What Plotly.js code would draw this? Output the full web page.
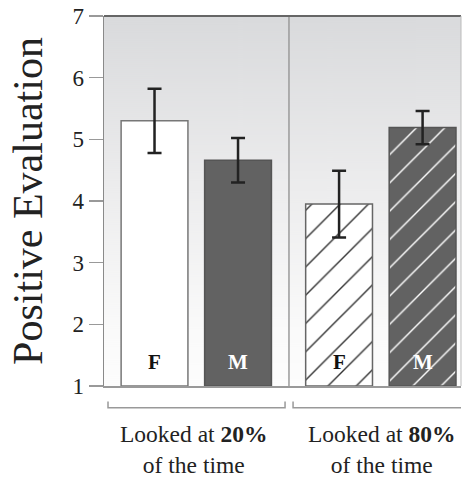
<!DOCTYPE html>
<html>
<head>
<meta charset="utf-8">
<script src="https://cdn.plot.ly/plotly-3.0.1.min.js"></script>
<style>html,body{margin:0;padding:0;background:#fff;}#chart{width:464px;height:481px;}</style>
</head>
<body>
<div id="chart"></div>
<script>
// ---- data ----
const groups = ["Looked at <b>20%</b><br>of the time", "Looked at <b>80%</b><br>of the time"];
const genders = ["F", "M", "F", "M"];
const means = [5.30, 4.66, 3.95, 5.19];
const errors = [0.52, 0.36, 0.54, 0.27];

// ---- layout helpers (positions/styles) ----
const xPos = [0, 1, 2.21, 3.21];
const fills = ["#ffffff", "#626262", "#ffffff", "#626262"];
const lineCols = ["#777777", "#555555", "#666666", "#555555"];
const patterns = [
  {shape: ""},
  {shape: ""},
  {shape: "/", bgcolor: "#ffffff", fgcolor: "#333333", size: 20, solidity: 0.07},
  {shape: "/", bgcolor: "#626262", fgcolor: "#ffffff", size: 20, solidity: 0.07}
];

const traces = means.map((m, i) => ({
  type: "bar",
  x: [xPos[i]],
  y: [m - 1],
  base: 1,
  width: 0.80,
  marker: {color: fills[i], line: {color: lineCols[i], width: 1.5}, pattern: patterns[i]},
  error_y: {type: "data", array: [errors[i]], visible: true, color: "#222222", thickness: 2.5, width: 7},
  hoverinfo: "skip",
  showlegend: false
}));

// gradient background image
const cv = document.createElement("canvas");
cv.width = 4; cv.height = 370;
const cx = cv.getContext("2d");
const g = cx.createLinearGradient(0, 0, 0, 370);
g.addColorStop(0, "#d9dadc");
g.addColorStop(0.45, "#ececed");
g.addColorStop(0.85, "#fafafa");
g.addColorStop(1, "#fdfdfd");
cx.fillStyle = g; cx.fillRect(0, 0, 4, 370);
const bgURL = cv.toDataURL("image/png");

const serif = "Liberation Serif";

const annotations = [];
genders.forEach((t, i) => {
  annotations.push({
    x: xPos[i], y: 1.39, xref: "x", yref: "y", text: "<b>" + t + "</b>", showarrow: false,
    font: {family: serif, size: 21, color: i % 2 === 0 ? "#111111" : "#ffffff"}
  });
});
const groupCenters = [0.47, 2.72];
groups.forEach((t, i) => {
  annotations.push({
    x: groupCenters[i], y: -0.09, xref: "x", yref: "paper", yanchor: "top", text: t, showarrow: false,
    font: {family: serif, size: 23.5, color: "#222222"}, align: "center"
  });
});

const shapes = [
  // divider
  {type: "line", xref: "x", yref: "y", x0: 1.61, x1: 1.61, y0: 1, y1: 7, line: {color: "#9a9a9a", width: 1.5}, layer: "above"},
  // top border
  {type: "line", xref: "paper", yref: "paper", x0: 0, x1: 1, y0: 1, y1: 1, line: {color: "#666666", width: 2}},
  // right border
  {type: "line", xref: "paper", yref: "paper", x0: 1, x1: 1, y0: 0, y1: 1, line: {color: "#bbbbbb", width: 1}},
  // brackets
  {type: "path", xref: "x", yref: "paper", path: "M -0.557 -0.042 L -0.557 -0.059 L 1.563 -0.059 L 1.563 -0.042", line: {color: "#999999", width: 1.5}},
  {type: "path", xref: "x", yref: "paper", path: "M 1.659 -0.042 L 1.659 -0.059 L 3.9 -0.059", line: {color: "#999999", width: 1.5}}
];

const layout = {
  width: 464, height: 481,
  margin: {l: 104, r: 3, t: 16, b: 95},
  paper_bgcolor: "#ffffff",
  plot_bgcolor: "rgba(0,0,0,0)",
  barmode: "overlay",
  font: {family: serif},
  xaxis: {range: [-0.605, 3.67], showticklabels: false, ticks: "", showgrid: false, zeroline: false,
          showline: true, linecolor: "#999999", linewidth: 1.5, fixedrange: true},
  yaxis: {range: [1, 7], dtick: 1, tick0: 1, ticks: "outside", ticklen: 14, tickwidth: 1.5, tickcolor: "#999999",
          showgrid: false, zeroline: false, showline: true, linecolor: "#8a8a8a", linewidth: 1.5,
          tickfont: {family: serif, size: 23, color: "#222222"},
          title: {text: "Positive Evaluation", font: {family: serif, size: 42, color: "#222222"}, standoff: 16},
          fixedrange: true},
  images: [{source: bgURL, xref: "paper", yref: "paper", x: 0, y: 1, sizex: 1, sizey: 1,
            sizing: "stretch", xanchor: "left", yanchor: "top", layer: "below"}],
  annotations: annotations,
  shapes: shapes
};

Plotly.newPlot("chart", traces, layout, {displayModeBar: false, staticPlot: true});
</script>
</body>
</html>
